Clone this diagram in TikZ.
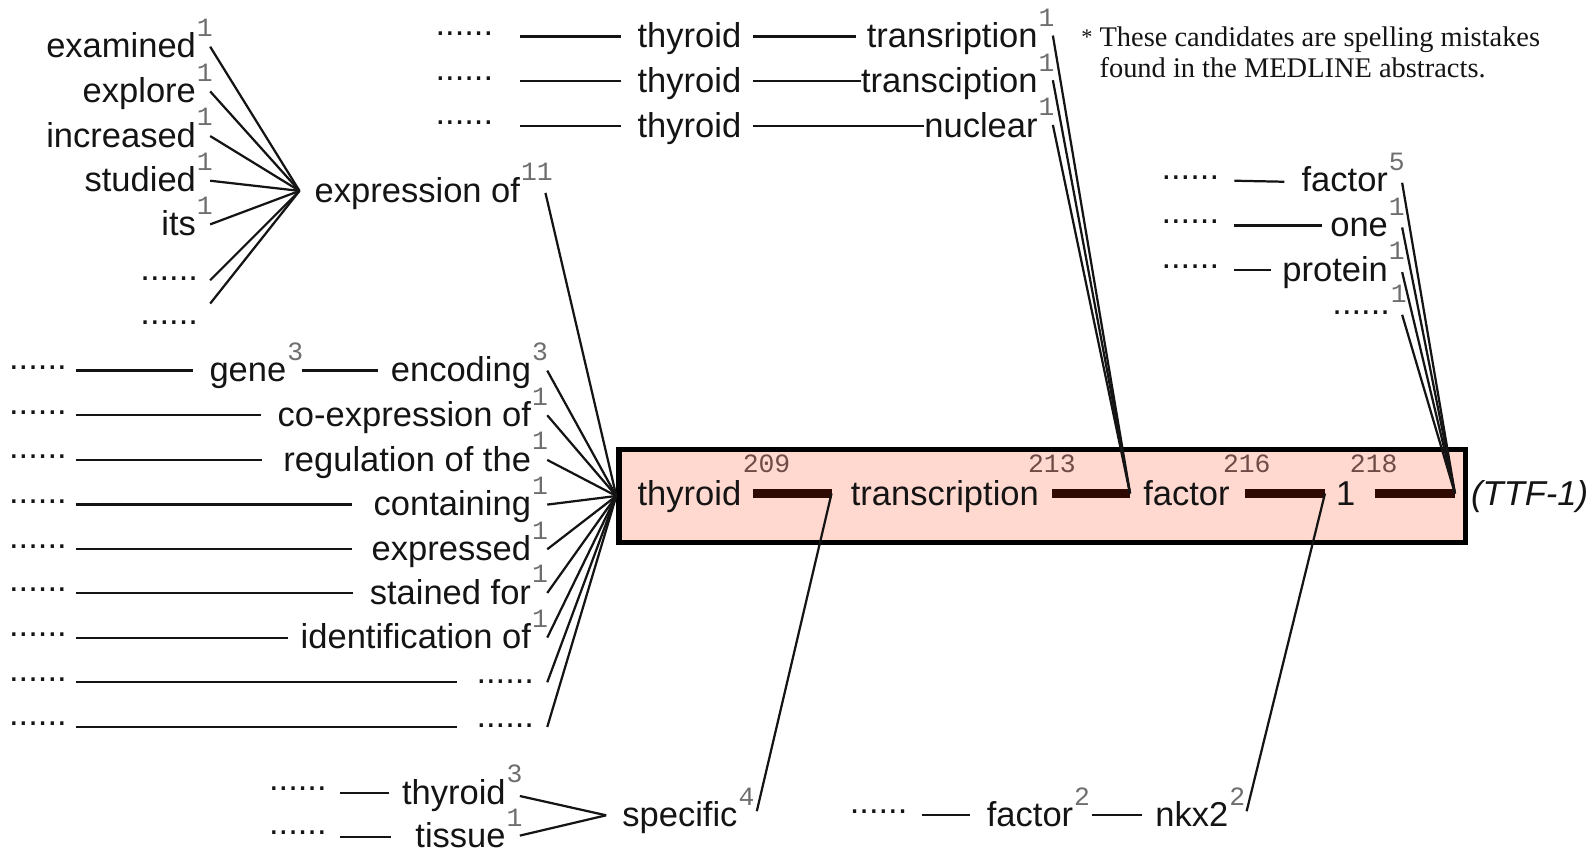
\documentclass[tikz,border=0pt]{standalone}
\usepackage{fontspec}
\setmainfont{Liberation Sans}
\newfontfamily\countfont{Liberation Mono}
\newfontfamily\notefont{Liberation Serif}
\usetikzlibrary{calc}

\definecolor{ink}{HTML}{141414}
\definecolor{countgray}{HTML}{6E6E6E}
\definecolor{posbrown}{HTML}{6E4B46}
\definecolor{barbrown}{HTML}{2E0A02}
\definecolor{boxpink}{HTML}{FFD8CF}

\tikzset{
  word/.style={inner sep=0pt, outer sep=0pt, text=ink, font=\fontsize{34}{40}\selectfont, anchor=base east},
  wordl/.style={word, anchor=base west},
  count/.style={inner sep=0pt, outer sep=0pt, text=countgray, font=\countfont\fontsize{26}{30}\selectfont, anchor=base west},
  posnum/.style={count, text=posbrown, anchor=base},
  link/.style={draw=ink, line width=2.2pt},
  heavy/.style={draw=barbrown, line width=9.5pt},
  termbox/.style={draw=black, line width=5.5pt, fill=boxpink, inner sep=0pt},
  note/.style={inner sep=0pt, outer sep=0pt, text=ink, font=\notefont\fontsize{28}{30}\selectfont, anchor=base west},
}

% frequency count written as a superscript after a word
\newcommand\addcount[3][-21]{\node[count] (#2-n) at ($(#2.base east)+(1,#1)$) {#3};}

\begin{document}
\begin{tikzpicture}[x=1pt,y=-1pt]
\useasboundingbox (0,0) rectangle (1568,841);

% ---------- the term box ----------
\node[termbox, minimum width=833.5pt, minimum height=91.5pt] (term) at (1026.5,488.5) {};
\node[wordl] (kthy) at (628,498) {thyroid};
\node[wordl] (ktrans) at (838,498) {transcription};
\node[wordl] (kfac) at (1126,498) {factor};
\node[wordl] (kone) at (1316,498) {1};
\node[wordl, font=\itshape\fontsize{34}{40}\selectfont] (kabbr) at (1449,498) {(TTF-1)};
\node[posnum] (p209) at (755,465) {209};
\node[posnum] (p213) at (1036,465) {213};
\node[posnum] (p216) at (1228,465) {216};
\node[posnum] (p218) at (1353,465) {218};

\coordinate (bar1s) at ($(kthy.base east)+(12,-12)$);
\coordinate (bar1e) at ($(ktrans.base west)+(-19,-12)$);
\coordinate (bar2s) at ($(ktrans.base east)+(13,-12)$);
\coordinate (bar2e) at ($(kfac.base west)+(-13,-12)$);
\coordinate (bar3s) at ($(kfac.base east)+(15,-12)$);
\coordinate (bar3e) at ($(kone.base west)+(-11,-12)$);
\coordinate (bar4s) at ($(kone.base east)+(19,-12)$);
\coordinate (bar4e) at ($(kabbr.base west)+(-16,-12)$);
\draw[heavy] (bar1s) -- (bar1e);
\draw[heavy] (bar2s) -- (bar2e);
\draw[heavy] (bar3s) -- (bar3e);
\draw[heavy] (bar4s) -- (bar4e);

% ---------- words before "expression of" ----------
\node[word] (examined) at (193,57) {examined};
\node[word] (explore) at (193,101) {explore};
\node[word] (increased) at (193,145) {increased};
\node[word] (studied) at (193,189) {studied};
\node[word] (its) at (193,232) {its};
\node[word] (tlA) at (195,276) {......};
\node[word] (tlB) at (195,320) {......};
\addcount{examined}{1}
\addcount{explore}{1}
\addcount{increased}{1}
\addcount{studied}{1}
\addcount{its}{1}
\node[wordl] (expr) at (310,199) {expression of};
\addcount{expr}{11}
\coordinate (hubA) at ($(expr.base west)+(-15,-11)$);
\foreach \n in {examined,explore,increased,studied,its}
  \draw[link] ($(\n.base east)+(14,-11)$) -- (hubA);
\draw[link] ($(tlA.base east)+(12,0)$) -- (hubA);
\draw[link] ($(tlB.base east)+(12,-21)$) -- (hubA);
\draw[link] ($(expr.base east)+(25,-9)$) -- (term.west);

% ---------- left-hand contexts ----------
\node[wordl] (ld1) at (9,364) {......};
\node[word] (gene) at (282,376) {gene};
\addcount{gene}{3}
\node[word] (encoding) at (523,376) {encoding};
\addcount{encoding}{3}
\draw[link] ($(ld1.base east)+(9,1)$) -- ($(gene.base west)+(-16,-11)$);
\draw[link] ($(gene.base east)+(15,-11)$) -- ($(encoding.base west)+(-13,-11)$);

\node[wordl] (ld2) at (9,408) {......};
\node[word] (coexp) at (523,420) {co-expression of};
\addcount{coexp}{1}
\draw[link] ($(ld2.base east)+(9,1)$) -- ($(coexp.base west)+(-16,-11)$);

\node[wordl] (ld3) at (9,452) {......};
\node[word] (regul) at (523,464) {regulation of the};
\addcount{regul}{1}
\draw[link] ($(ld3.base east)+(9,1)$) -- ($(regul.base west)+(-21,-11)$);

\node[wordl] (ld4) at (9,496) {......};
\node[word] (contain) at (523,508) {containing};
\addcount{contain}{1}
\draw[link] ($(ld4.base east)+(9,1)$) -- ($(contain.base west)+(-21,-11)$);

\node[wordl] (ld5) at (9,540) {......};
\node[word] (expressed) at (523,552) {expressed};
\addcount{expressed}{1}
\draw[link] ($(ld5.base east)+(9,1)$) -- ($(expressed.base west)+(-19,-11)$);

\node[wordl] (ld6) at (9,583) {......};
\node[word] (stained) at (523,595) {stained for};
\addcount{stained}{1}
\draw[link] ($(ld6.base east)+(9,1)$) -- ($(stained.base west)+(-17,-11)$);

\node[wordl] (ld7) at (9,627) {......};
\node[word] (ident) at (523,639) {identification of};
\addcount{ident}{1}
\draw[link] ($(ld7.base east)+(9,1)$) -- ($(ident.base west)+(-13,-11)$);

\node[wordl] (ld8) at (9,671) {......};
\node[word] (rd8) at (526,673) {......};
\draw[link] ($(ld8.base east)+(9,1)$) -- ($(rd8.base west)+(-19,-1)$);

\node[wordl] (ld9) at (9,715) {......};
\node[word] (rd9) at (526,717) {......};
\draw[link] ($(ld9.base east)+(9,1)$) -- ($(rd9.base west)+(-19,-1)$);

\foreach \n in {encoding,coexp,regul,contain,expressed,stained,ident}
  \draw[link] ($(\n.base east)+(16,-11)$) -- (term.west);
\draw[link] ($(rd8.base east)+(13,-1)$) -- (term.west);
\draw[link] ($(rd9.base east)+(13,-1)$) -- (term.west);

% ---------- misspelled variants above ----------
\node[wordl] (tmd1) at (429,35) {......};
\node[wordl] (tmthy1) at (628,47) {thyroid};
\node[word] (tmt1) at (1022,47) {transription};
\addcount{tmt1}{1}
\draw[link] ($(tmd1.base east)+(26,1)$) -- ($(tmthy1.base west)+(-16,-11)$);
\draw[link] ($(tmthy1.base east)+(12,-11)$) -- ($(tmt1.base west)+(-11,-11)$);

\node[wordl] (tmd2) at (429,79) {......};
\node[wordl] (tmthy2) at (628,91) {thyroid};
\node[word] (tmt2) at (1022,91) {transciption};
\addcount{tmt2}{1}
\draw[link] ($(tmd2.base east)+(26,1)$) -- ($(tmthy2.base west)+(-16,-11)$);
\draw[link] ($(tmthy2.base east)+(12,-11)$) -- ($(tmt2.base west)+(0,-11)$);

\node[wordl] (tmd3) at (429,123) {......};
\node[wordl] (tmthy3) at (628,135) {thyroid};
\node[word] (tmt3) at (1022,135) {nuclear};
\addcount{tmt3}{1}
\draw[link] ($(tmd3.base east)+(26,1)$) -- ($(tmthy3.base west)+(-16,-11)$);
\draw[link] ($(tmthy3.base east)+(12,-11)$) -- ($(tmt3.base west)+(0,-11)$);

\foreach \n in {tmt1,tmt2,tmt3}
  \draw[link] ($(\n.base east)+(15,-12)$) -- (bar2e);

% ---------- footnote ----------
\node[note, anchor=base east, font=\notefont\fontsize{22}{24}\selectfont] (star) at (1076,44) {*};
\node[note] (note1) at (1083,46) {These candidates are spelling mistakes};
\node[note] (note2) at (1083,76) {found in the MEDLINE abstracts.};

% ---------- right-hand contexts above ----------
\node[wordl] (rd1) at (1144,177) {......};
\node[word] (rfac) at (1367,189) {factor};
\addcount{rfac}{5}
\draw[link] ($(rd1.base east)+(15,1)$) -- ($(rfac.base west)+(-17,-10)$);

\node[wordl] (rd2) at (1144,220) {......};
\node[word] (rone) at (1367,233) {one};
\addcount{rone}{1}
\draw[link] ($(rd2.base east)+(15,2)$) -- ($(rone.base west)+(-8,-11)$);

\node[wordl] (rd3) at (1144,264) {......};
\node[word] (rprot) at (1367,277) {protein};
\addcount{rprot}{1}
\draw[link] ($(rd3.base east)+(15,2)$) -- ($(rprot.base west)+(-11,-11)$);

\node[word] (rd4) at (1369,310) {......};
\addcount[-12]{rd4}{1}

\foreach \n in {rfac,rone,rprot}
  \draw[link] ($(\n.base east)+(14,-9)$) -- (bar4e);
\draw[link] ($(rd4.base east)+(12,0)$) -- (bar4e);

% ---------- contexts below ----------
\node[wordl] (bd1) at (265,779) {......};
\node[word] (bthy) at (498,792) {thyroid};
\addcount{bthy}{3}
\draw[link] ($(bd1.base east)+(13,2)$) -- ($(bthy.base west)+(-13,-11)$);

\node[wordl] (bd2) at (265,822) {......};
\node[word] (btis) at (498,835) {tissue};
\addcount{btis}{1}
\draw[link] ($(bd2.base east)+(13,2)$) -- ($(btis.base west)+(-24,-11)$);

\node[wordl] (spec) at (613,814) {specific};
\addcount{spec}{4}
\coordinate (hubC) at ($(spec.base west)+(-16,-11)$);
\draw[link] ($(bthy.base east)+(14,-8)$) -- (hubC);
\draw[link] ($(btis.base east)+(14,-12)$) -- (hubC);
\draw[link] ($(spec.base east)+(19,-15)$) -- (bar1e);

\node[wordl] (bd3) at (837,801) {......};
\node[wordl] (bfac) at (972,814) {factor};
\addcount{bfac}{2}
\node[wordl] (nkx) at (1138,814) {nkx2};
\addcount{nkx}{2}
\draw[link] ($(bd3.base east)+(14,2)$) -- ($(bfac.base west)+(-17,-11)$);
\draw[link] ($(bfac.base east)+(18,-11)$) -- ($(nkx.base west)+(-13,-11)$);
\draw[link] ($(nkx.base east)+(18,-15)$) -- (bar3e);

\end{tikzpicture}
\end{document}
